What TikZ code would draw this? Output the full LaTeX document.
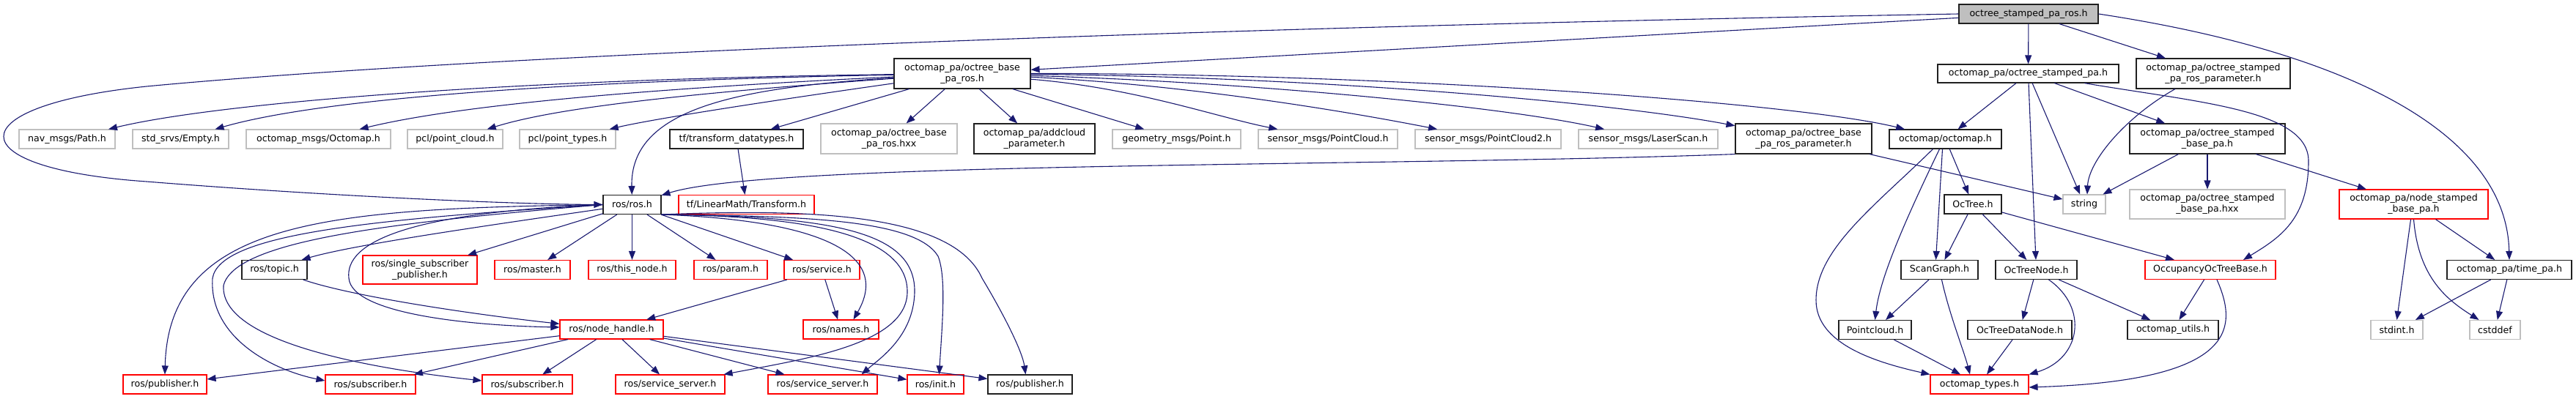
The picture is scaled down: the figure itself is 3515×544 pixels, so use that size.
\documentclass[tikz,border=0pt]{standalone}
\usepackage{fontspec}
\setmainfont{DejaVu Sans}
\usetikzlibrary{arrows.meta}
\definecolor{edgecol}{HTML}{191970}
\definecolor{graybd}{HTML}{BFBFBF}
\definecolor{rootfill}{HTML}{BFBFBF}
\definecolor{redbd}{HTML}{FF0000}
\definecolor{blackbd}{HTML}{202020}
\begin{document}
\begin{tikzpicture}[x=1pt,y=-1pt,
  base/.style={draw, fill=white, inner sep=0pt, align=center, line width=1.1pt,
    font=\fontsize{12.6pt}{15pt}\selectfont},
  bk/.style={base, draw=blackbd},
  gr/.style={base, draw=graybd},
  rd/.style={base, draw=redbd},
  rt/.style={base, draw=blackbd, fill=rootfill},
  one/.style={minimum height=26pt},
  two/.style={minimum height=41pt},
  ed/.style={draw=edgecol, line width=1.1pt, -{Triangle[length=12pt,width=9pt]}}
]
\useasboundingbox (0,0) rectangle (3515,544);
% ---------- nodes ----------
\node[rt,one,minimum width=190pt] (root) at (2768,19) {octree\_stamped\_pa\_ros.h};
\node[bk,two,minimum width=186pt] (bpr) at (1313,100.5) {octomap\_pa/octree\_base\\\_pa\_ros.h};
\node[gr,one,minimum width=131pt] (nav) at (91.5,190) {nav\_msgs/Path.h};
\node[gr,one,minimum width=131pt] (srv) at (246.5,190) {std\_srvs/Empty.h};
\node[gr,one,minimum width=197pt] (omsg) at (434.5,190) {octomap\_msgs/Octomap.h};
\node[gr,one,minimum width=130pt] (pclc) at (621,190) {pcl/point\_cloud.h};
\node[gr,one,minimum width=131pt] (pclt) at (774.5,190) {pcl/point\_types.h};
\node[bk,one,minimum width=182pt] (tfd) at (1005,190) {tf/transform\_datatypes.h};
\node[gr,two,minimum width=186pt] (hxx) at (1213,189.5) {octomap\_pa/octree\_base\\\_pa\_ros.hxx};
\node[bk,two,minimum width=165pt] (addc) at (1411.5,189.5) {octomap\_pa/addcloud\\\_parameter.h};
\node[gr,one,minimum width=175pt] (geo) at (1605.5,190) {geometry\_msgs/Point.h};
\node[gr,one,minimum width=190pt] (spc) at (1812,190) {sensor\_msgs/PointCloud.h};
\node[gr,one,minimum width=199pt] (spc2) at (2030.5,190) {sensor\_msgs/PointCloud2.h};
\node[gr,one,minimum width=190pt] (lscan) at (2249,190) {sensor\_msgs/LaserScan.h};
\node[bk,two,minimum width=186pt] (bprp) at (2461,189.5) {octomap\_pa/octree\_base\\\_pa\_ros\_parameter.h};
\node[bk,one,minimum width=153pt] (octomap) at (2654.5,190) {octomap/octomap.h};
\node[bk,one,minimum width=247pt,minimum height=25pt] (stpa) at (2767.5,100.5) {octomap\_pa/octree\_stamped\_pa.h};
\node[bk,two,minimum width=210pt] (stprp) at (3020,100.5) {octomap\_pa/octree\_stamped\\\_pa\_ros\_parameter.h};
\node[bk,two,minimum width=212pt] (stbase) at (3012,189.5) {octomap\_pa/octree\_stamped\\\_base\_pa.h};
\node[gr,one,minimum width=58pt] (string) at (2844,279) {string};
\node[bk,one,minimum width=78pt] (octree) at (2692,279) {OcTree.h};
\node[gr,minimum height=40pt,minimum width=212pt] (stbhxx) at (3012,279) {octomap\_pa/octree\_stamped\\\_base\_pa.hxx};
\node[rd,minimum height=40pt,minimum width=203pt] (nsb) at (3293.5,279) {octomap\_pa/node\_stamped\\\_base\_pa.h};
\node[bk,one,minimum width=105pt] (scang) at (2646.5,368.5) {ScanGraph.h};
\node[bk,one,minimum width=111pt] (octn) at (2778.5,368.5) {OcTreeNode.h};
\node[rd,one,minimum width=178pt] (occ) at (3016,368.5) {OccupancyOcTreeBase.h};
\node[bk,one,minimum width=170pt] (timepa) at (3424,368.5) {octomap\_pa/time\_pa.h};
\node[bk,one,minimum width=99pt] (pcd) at (2558.5,450.5) {Pointcloud.h};
\node[bk,one,minimum width=142pt] (octdn) at (2756,450.5) {OcTreeDataNode.h};
\node[bk,one,minimum width=124pt] (outils) at (2965,450.5) {octomap\_utils.h};
\node[gr,one,minimum width=71pt] (stdint) at (3270.5,450.5) {stdint.h};
\node[gr,one,minimum width=69pt] (cstddef) at (3404.5,450.5) {cstddef};
\node[rd,one,minimum width=134pt] (otypes) at (2701,525) {octomap\_types.h};
\node[bk,one,minimum width=79pt] (ros) at (862.5,279.5) {ros/ros.h};
\node[rd,one,minimum width=185pt] (tflm) at (1018.5,279.5) {tf/LinearMath/Transform.h};
\node[bk,one,minimum width=89pt] (topic) at (374.5,368.5) {ros/topic.h};
\node[rd,minimum height=39pt,minimum width=156pt] (ssp) at (573,368.5) {ros/single\_subscriber\\\_publisher.h};
\node[rd,one,minimum width=103pt] (master) at (726.5,368.5) {ros/master.h};
\node[rd,one,minimum width=119pt] (thisnode) at (862.5,368.5) {ros/this\_node.h};
\node[rd,one,minimum width=100pt] (param) at (997,368.5) {ros/param.h};
\node[rd,one,minimum width=103pt] (service) at (1121.5,368.5) {ros/service.h};
\node[rd,one,minimum width=141pt] (nh) at (834.5,450) {ros/node\_handle.h};
\node[rd,one,minimum width=103pt] (names) at (1147.5,450) {ros/names.h};
\node[rd,one,minimum width=114pt] (pubr) at (225,525) {ros/publisher.h};
\node[rd,one,minimum width=123pt] (sub1) at (505.5,525) {ros/subscriber.h};
\node[rd,one,minimum width=123pt] (sub2) at (719.5,525) {ros/subscriber.h};
\node[rd,one,minimum width=149pt] (ss1) at (914.5,525) {ros/service\_server.h};
\node[rd,one,minimum width=149pt] (ss2) at (1122.5,525) {ros/service\_server.h};
\node[rd,one,minimum width=77pt] (init) at (1276.5,525) {ros/init.h};
\node[bk,one,minimum width=115pt] (pubb) at (1405.5,525) {ros/publisher.h};
% ---------- edges ----------
% root
\draw[ed] (root) -- (bpr);
\draw[ed] (root.west) .. controls (1500,40) and (600,80) .. (200,118) .. controls (-60,145) and (-60,230) .. (200,248) .. controls (450,268) and (700,279) .. (ros.west);
\draw[ed] (root) -- (stpa);
\draw[ed] (root) -- (stprp);
\draw[ed] (root.east) .. controls (3200,70) and (3420,180) .. (timepa.north);
% octree_base_pa_ros.h
\draw[ed] (bpr) .. controls (700,108) and (300,140) .. (nav);
\draw[ed] (bpr) .. controls (700,112) and (420,140) .. (srv);
\draw[ed] (bpr) .. controls (800,125) and (600,150) .. (omsg);
\draw[ed] (bpr) .. controls (900,130) and (750,150) .. (pclc);
\draw[ed] (bpr) .. controls (1000,145) and (880,165) .. (pclt);
\draw[ed] (bpr) .. controls (1000,120) and (860,150) .. (ros);
\draw[ed] (bpr) -- (tfd);
\draw[ed] (bpr) -- (hxx);
\draw[ed] (bpr) -- (addc);
\draw[ed] (bpr) -- (geo);
\draw[ed] (bpr) .. controls (1550,120) and (1660,160) .. (spc);
\draw[ed] (bpr) .. controls (1600,115) and (1800,145) .. (spc2);
\draw[ed] (bpr) .. controls (1700,112) and (2050,145) .. (lscan);
\draw[ed] (bpr) .. controls (1800,105) and (2200,140) .. (bprp);
\draw[ed] (bpr) .. controls (1900,100) and (2450,140) .. (octomap);
\draw[ed] (tfd) -- (tflm);
\draw[ed] (bprp.south west) .. controls (1900,228) and (1050,220) .. (ros);
\draw[ed] (bprp) -- (string);
% octree_stamped_pa.h
\draw[ed] (stpa) -- (octomap);
\draw[ed] (stpa) -- (octn);
\draw[ed] (stpa) -- (string);
\draw[ed] (stpa) -- (stbase);
\draw[ed] (stpa) .. controls (3000,140) and (3150,150) .. (3150,220) .. controls (3150,300) and (3110,325) .. ([xshift=45pt]occ.north);
\draw[ed] ([xshift=-52pt]stprp.south) .. controls (2900,160) and (2850,220) .. ([xshift=4pt]string.north);
\draw[ed] (stbase) -- (string);
\draw[ed] (stbase) -- (stbhxx);
\draw[ed] (stbase) -- (nsb);
\draw[ed] ([xshift=-4pt]nsb.south) -- (stdint.north);
\draw[ed] (nsb.south) .. controls (3300,380) and (3340,410) .. ([xshift=-22pt]cstddef.north);
\draw[ed] (nsb) -- (timepa);
\draw[ed] (timepa) -- (stdint);
\draw[ed] (timepa) -- (cstddef);
% octomap
\draw[ed] (octomap) -- (octree);
\draw[ed] ([xshift=-4pt]octomap.south) -- ([xshift=-5pt]scang.north);
\draw[ed] ([xshift=-8pt]octomap.south) .. controls (2600,300) and (2565,380) .. (pcd.north);
\draw[ed] ([xshift=-17pt]octomap.south) .. controls (2560,280) and (2478,340) .. (2478,410) .. controls (2478,470) and (2560,495) .. (otypes.north west);
\draw[ed] (octree) -- (scang);
\draw[ed] (octree) -- (octn);
\draw[ed] (octree) -- (occ);
\draw[ed] (scang) -- (pcd);
\draw[ed] (scang) .. controls (2660,430) and (2680,480) .. ([xshift=-13pt]otypes.north);
\draw[ed] (pcd) -- (otypes);
\draw[ed] (octn) -- (octdn);
\draw[ed] (octn) -- (outils);
\draw[ed] ([xshift=17pt]octn.south) .. controls (2850,420) and (2840,490) .. (otypes.north east);
\draw[ed] (octdn) -- (otypes);
\draw[ed] (occ) -- (outils);
\draw[ed] ([xshift=9pt]occ.south) .. controls (3055,450) and (3050,520) .. ([yshift=-4pt]otypes.east);
% ros/ros.h
\draw[ed] (ros.west) .. controls (450,285) and (230,300) .. (pubr.north);
\draw[ed] (ros.west) .. controls (500,300) and (300,320) .. (290,380) .. controls (285,460) and (370,505) .. ([yshift=5pt]sub1.west);
\draw[ed] (ros.west) .. controls (520,305) and (320,330) .. (305,390) .. controls (300,470) and (520,505) .. ([yshift=5pt]sub2.west);
\draw[ed] (ros.west) .. controls (560,290) and (470,330) .. (476,380) .. controls (480,430) and (650,445) .. ([yshift=3pt]nh.west);
\draw[ed] (ros) .. controls (650,310) and (480,335) .. ([xshift=-8pt]topic.north east);
\draw[ed] (ros) -- (ssp);
\draw[ed] (ros) -- (master);
\draw[ed] (ros) -- (thisnode);
\draw[ed] (ros) -- (param);
\draw[ed] (ros) -- (service);
\draw[ed] (ros.south east) .. controls (1100,300) and (1220,340) .. ([xshift=17pt]names.north);
\draw[ed] (ros.south east) .. controls (1100,295) and (1240,320) .. (1238,400) .. controls (1236,470) and (1100,490) .. ([xshift=-2pt]ss1.north east);
\draw[ed] (ros.south east) .. controls (1150,295) and (1250,320) .. (1248,400) .. controls (1246,460) and (1200,490) .. ([xshift=53pt]ss2.north);
\draw[ed] (ros.south east) .. controls (1100,295) and (1250,300) .. (1280,350) .. controls (1292,380) and (1285,450) .. ([xshift=5pt]init.north);
\draw[ed] (ros.south east) .. controls (1100,285) and (1300,290) .. (1340,380) .. controls (1370,430) and (1395,480) .. ([xshift=-6pt]pubb.north);
\draw[ed] (topic) .. controls (480,405) and (650,430) .. (nh);
\draw[ed] (service) -- (nh);
\draw[ed] (service) -- (names);
\draw[ed] (nh) -- (pubr);
\draw[ed] (nh) -- (sub1);
\draw[ed] (nh) -- (sub2);
\draw[ed] (nh) -- (ss1);
\draw[ed] (nh) -- (ss2);
\draw[ed] (nh) -- (init);
\draw[ed] (nh) -- (pubb);
\end{tikzpicture}
\end{document}
